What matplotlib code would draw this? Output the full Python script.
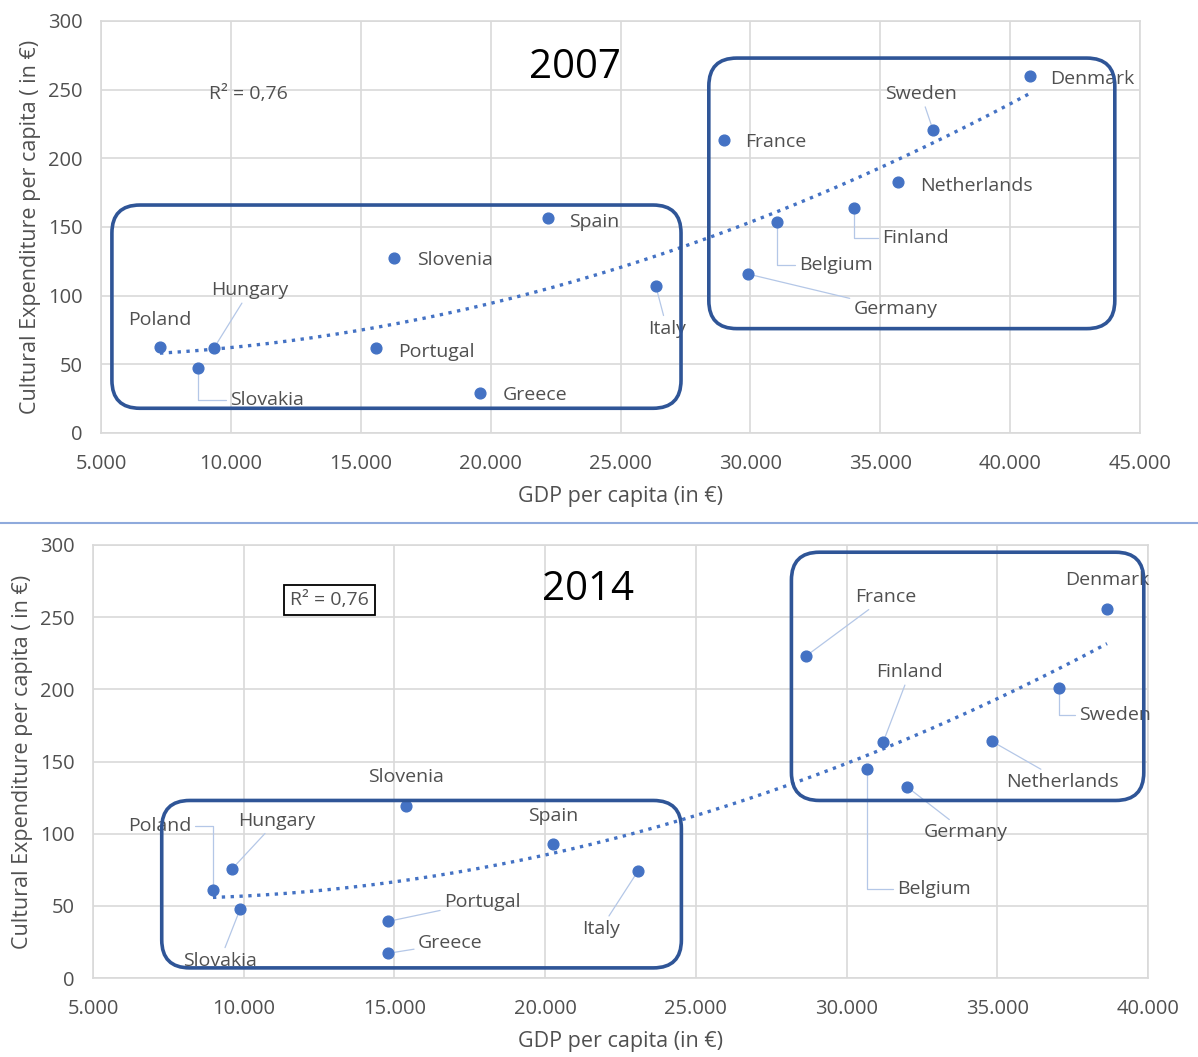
import matplotlib.pyplot as plt
import numpy as np
from matplotlib.patches import FancyBboxPatch
from matplotlib.lines import Line2D

plt.rcParams['font.family'] = ['Open Sans', 'DejaVu Sans']

countries = ['Poland', 'Hungary', 'Slovakia', 'Portugal', 'Slovenia', 'Spain', 'Greece', 'Italy',
             'France', 'Belgium', 'Germany', 'Finland', 'Netherlands', 'Sweden', 'Denmark']

# GDP per capita (EUR) and cultural expenditure per capita (EUR)
gdp_2007 = [7270, 9350, 8730, 15590, 16280, 22210, 19590, 26360,
            28980, 31020, 29900, 33980, 35680, 37030, 40760]
exp_2007 = [62.6, 61.9, 47.3, 62.0, 127.5, 156.6, 29.1, 107.0,
            213.4, 153.7, 115.8, 163.9, 182.8, 220.7, 260.0]

gdp_2014 = [8980, 9610, 9880, 14790, 15380, 20260, 14790, 23080,
            28650, 30680, 32000, 31210, 34830, 37050, 38640]
exp_2014 = [61.3, 75.5, 47.7, 39.2, 119.0, 92.6, 17.1, 74.1,
            223.0, 144.7, 132.5, 163.2, 163.9, 201.0, 255.8]

r2_text = 'R² = 0,76'

# label placement (data coords) and leader style: None, 'line' or 'elbow'
labels_2007 = {
    'Poland': (7271, 82, None), 'Hungary': (10735, 104, 'line'), 'Slovakia': (11390, 24, 'elbow'),
    'Portugal': (17930, 59, None), 'Slovenia': (18630, 126, None), 'Spain': (23980, 154, None),
    'Greece': (21700, 28, None), 'Italy': (26790, 76, 'line'), 'France': (30980, 212, None),
    'Belgium': (33290, 122, 'elbow'), 'Germany': (35600, 90, 'line'), 'Finland': (36370, 142, 'elbow'),
    'Netherlands': (38720, 180, None), 'Sweden': (36560, 247, 'line'), 'Denmark': (43180, 258, None),
}
labels_2014 = {
    'Poland': (7210, 105, 'elbow'), 'Hungary': (11100, 109, 'line'), 'Slovakia': (9210, 12, 'line'),
    'Portugal': (17920, 53, 'line'), 'Slovenia': (15400, 139, None), 'Spain': (20280, 112, None),
    'Greece': (16860, 24, 'line'), 'Italy': (21840, 34, 'line'), 'France': (31300, 264, 'line'),
    'Belgium': (32890, 62, 'elbow'), 'Germany': (33950, 101, 'line'), 'Finland': (32100, 212, 'line'),
    'Netherlands': (37170, 136, 'line'), 'Sweden': (38900, 182, 'elbow'), 'Denmark': (38640, 276, None),
}

blue = '#4472C4'
box_blue = '#2F5597'
grey_txt = '#505050'
grid_c = '#D9D9D9'

W, H = 1198, 1057


def draw_panel(ax, gdp, exp, labels, year, xmax, boxes, year_pos, r2_pos, r2_boxed):
    gdp = np.array(gdp)
    exp = np.array(exp)
    ax.set_xlim(5000, xmax)
    ax.set_ylim(0, 300)
    ax.set_xticks(np.arange(5000, xmax + 1, 5000))
    ax.set_xticklabels([f'{v:,}'.replace(',', '.') for v in range(5000, xmax + 1, 5000)])
    ax.set_yticks(np.arange(0, 301, 50))
    ax.grid(color=grid_c, lw=1.2)
    ax.set_axisbelow(True)
    for s in ax.spines.values():
        s.set_color(grid_c)
        s.set_linewidth(1.2)
    ax.tick_params(length=0, colors=grey_txt, labelsize=14.5)
    ax.tick_params(axis='x', pad=15)
    ax.tick_params(axis='y', pad=13)

    # polynomial (2nd order) trend line
    coef = np.polyfit(gdp, exp, 2)
    xs = np.linspace(gdp.min(), gdp.max(), 200)
    ax.plot(xs, np.polyval(coef, xs), ':', color=blue, lw=2.4, zorder=2)

    ax.scatter(gdp, exp, s=60, color=blue, zorder=4)

    for c, x, y in zip(countries, gdp, exp):
        tx, ty, leader = labels[c]
        props = None
        if leader:
            props = dict(arrowstyle='-', color='#B4C7E7', lw=0.9, shrinkA=1, shrinkB=4)
            if leader == 'elbow':
                props['connectionstyle'] = 'angle,angleA=0,angleB=90,rad=0'
        ax.annotate(c, xy=(x, y), xytext=(tx, ty), textcoords='data', ha='center', va='center',
                    fontsize=14, color=grey_txt, arrowprops=props, zorder=3)

    # rounded boxes: corner radius in pixels converted to data units
    pos = ax.get_position()
    xpp = (xmax - 5000) / (pos.width * W)
    ypp = 300 / (pos.height * H)
    for (x0, y0, x1, y1) in boxes:
        ax.add_patch(FancyBboxPatch((x0, y0), x1 - x0, y1 - y0,
                                    boxstyle=f'round,pad=0,rounding_size={28 * xpp}',
                                    mutation_aspect=ypp / xpp,
                                    fill=False, ec=box_blue, lw=2.6, zorder=5))

    ax.text(year_pos[0], year_pos[1], year, fontsize=29, color='black', ha='center', va='center')
    if r2_boxed:
        ax.text(r2_pos[0], r2_pos[1], r2_text, fontsize=14, color=grey_txt, ha='center', va='center',
                bbox=dict(boxstyle='square,pad=0.3', fc='white', ec='black', lw=1.3))
    else:
        ax.text(r2_pos[0], r2_pos[1], r2_text, fontsize=14, color=grey_txt, ha='center', va='center')

    ax.set_xlabel('GDP per capita (in €)', fontsize=15.5, color=grey_txt, labelpad=9)
    ax.set_ylabel('Cultural Expenditure per capita ( in €)', fontsize=15.5, color=grey_txt, labelpad=5)


fig = plt.figure(figsize=(W / 100, H / 100), dpi=100)
ax1 = fig.add_axes([101 / W, 1 - 433 / H, 1039 / W, 412 / H])
ax2 = fig.add_axes([93 / W, 1 - 978 / H, 1055 / W, 433 / H])

draw_panel(ax1, gdp_2007, exp_2007, labels_2007, '2007', 45000,
           [(5420, 18, 27330, 166), (28400, 76, 44030, 273)],
           (23245, 266), (10660, 247), False)
draw_panel(ax2, gdp_2014, exp_2014, labels_2014, '2014', 40000,
           [(7280, 7, 24520, 123), (28170, 123, 39860, 295)],
           (21410, 269), (12850, 262), True)

fig.add_artist(Line2D([0, 1], [1 - 523 / H, 1 - 523 / H], color='#8FAADC', lw=1.5,
                      transform=fig.transFigure))

fig.savefig('out.png', dpi=100)
